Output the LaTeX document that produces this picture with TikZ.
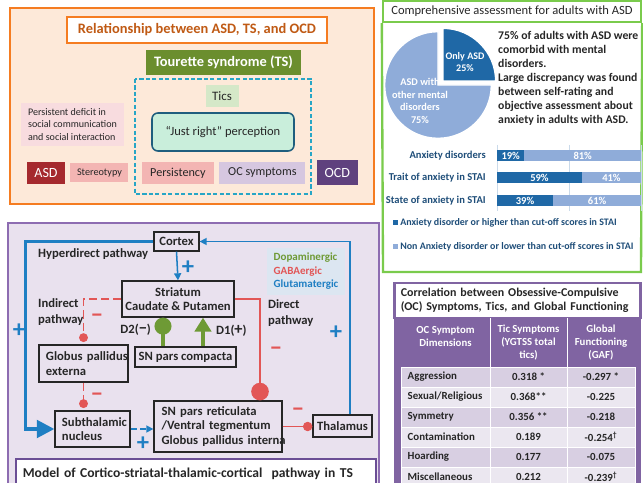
\documentclass[tikz,border=0pt]{standalone}
\usepackage{fontspec}
\setmainfont{Carlito}
\usetikzlibrary{positioning, arrows.meta}

\definecolor{orangeline}{HTML}{F57C21}
\definecolor{peach}{HTML}{FDE9D9}
\definecolor{titlebrown}{HTML}{C05A14}
\definecolor{tsgreen}{HTML}{6B8E2E}
\definecolor{dashcyan}{HTML}{27A6C6}
\definecolor{ticsgreen}{HTML}{D5E8C8}
\definecolor{mint}{HTML}{C9EEDB}
\definecolor{mintedge}{HTML}{1F5E7E}
\definecolor{pinklight}{HTML}{F8DCDF}
\definecolor{asdred}{HTML}{A5292E}
\definecolor{salmon}{HTML}{F3B5B3}
\definecolor{lavender}{HTML}{D6C7E0}
\definecolor{ocdpurple}{HTML}{5F417E}
\definecolor{textgray}{HTML}{262626}
\definecolor{greenline}{HTML}{7ACB4C}
\definecolor{barblue}{HTML}{1F68A6}
\definecolor{barlight}{HTML}{8FACD9}
\definecolor{navy}{HTML}{1F4E79}
\definecolor{gridblue}{HTML}{CADAEA}
\definecolor{panelpurple}{HTML}{8D6CB1}
\definecolor{panelfill}{HTML}{E9E1EE}
\definecolor{captionedge}{HTML}{6B4E95}
\definecolor{legendfill}{HTML}{DCE6F1}
\definecolor{glublue}{HTML}{1F7FC3}
\definecolor{gabared}{HTML}{E25656}
\definecolor{dopagreen}{HTML}{6E9A35}
\definecolor{tabpurple}{HTML}{8064A2}
\definecolor{rowdark}{HTML}{D8CFE2}
\definecolor{rowlight}{HTML}{EBE7F0}

\newcommand{\pathwayfont}{\fontsize{10.8}{12.2}\selectfont\bfseries}
\newcommand{\cellfont}{\fontsize{9.3}{11}\selectfont\bfseries}

\begin{document}
\begin{tikzpicture}[x=0.03cm, y=-0.03cm,
        flatbox/.style={rectangle, inner sep=1pt, text=textgray, align=center},
        region/.style={rectangle, draw=textgray, line width=1.1pt, inner sep=1pt, text=textgray, font=\pathwayfont, align=center},
        leftregion/.style={region, align=left, inner xsep=0.21cm},
        bar/.style={rectangle, inner sep=0pt, outer sep=0pt, minimum height=0.33cm, text=white, font=\fontsize{9}{10}\selectfont\bfseries},
        catlabel/.style={text=navy, inner sep=0pt, font=\fontsize{9}{10}\selectfont\bfseries},
        keytext/.style={text=navy, inner sep=0pt, font=\fontsize{8.5}{10}\selectfont\bfseries},
        headcell/.style={rectangle, inner sep=1pt, minimum height=1.47cm, align=center, text=white, font=\fontsize{9.2}{10.8}\selectfont\bfseries},
        cell/.style={rectangle, draw=white, line width=0.8pt, minimum height=0.6cm, inner sep=1pt, font=\cellfont, text=textgray},
        cellleft/.style={cell, text width=2.27cm, align=left, inner xsep=0.2cm},
        hyper/.style={draw=glublue, line width=3pt, -{Triangle[length=15pt, width=15pt]}},
        glu/.style={draw=glublue, line width=1.3pt, -{Triangle[length=6pt, width=6pt]}},
        direct/.style={draw=gabared, line width=2.5pt, -{Circle[length=15pt]}},
        indirect/.style={draw=gabared, line width=1.6pt, dash pattern=on 7pt off 3.5pt, -{Circle[length=7.5pt]}, shorten >=2pt},
        inhib/.style={draw=gabared, line width=1.2pt, -{Circle[length=8pt]}},
        dopa/.style={draw=dopagreen, line width=4pt},
        plus/.style={text=glublue, inner sep=0pt, font=\fontsize{21}{21}\selectfont\bfseries},
        minus/.style={text=gabared, inner sep=0pt, font=\fontsize{20}{20}\selectfont\bfseries}
    ]
    \clip (0,0) rectangle (643,483);

    % Relationship panel (top left)
    \draw[orangeline, fill=peach, line width=2.2pt] (10,8) rectangle (374,204);
    \node[draw=orangeline, fill=white, line width=2pt, minimum width=7.8cm, minimum height=0.78cm, font=\fontsize{12.3}{14}\selectfont\bfseries, text=titlebrown] (reltitle) at (197,30) {Relationship between ASD, TS, and OCD};
    \node[fill=tsgreen, minimum width=4.65cm, minimum height=0.75cm, font=\fontsize{12.3}{14}\selectfont\bfseries, text=white] (ts) at (223.5,62.5) {Tourette syndrome (TS)};
    \draw[dashcyan, line width=1.3pt, dash pattern=on 3.5pt off 2pt] (135,79) rectangle (311,194);
    \node[flatbox, fill=ticsgreen, minimum width=0.99cm, minimum height=0.66cm, font=\fontsize{11}{12}\selectfont] (tics) at (222,96) {Tics};
    \node[flatbox, draw=mintedge, line width=1.3pt, rounded corners=5pt, fill=mint, minimum width=4.26cm, minimum height=1.14cm, font=\fontsize{10.7}{13}\selectfont] (justright) at (223,132) {“Just right” perception};
    \node[flatbox, fill=pinklight, minimum width=3.09cm, minimum height=1.29cm, align=left, font=\fontsize{8.6}{10.3}\selectfont] (deficit) at (72.5,124.5) {Persistent deficit in\\social communication\\and social interaction};

    % Symptom row
    \node[flatbox, fill=asdred, text=white, minimum width=1.14cm, minimum height=0.66cm, font=\fontsize{12}{13}\selectfont] (asd) at (46,173) {ASD};
    \node[flatbox, fill=salmon, minimum width=1.74cm, minimum height=0.57cm, font=\fontsize{8.7}{10}\selectfont, right=0.15cm of asd] (stereo) {Stereotypy};
    \node[flatbox, fill=salmon, minimum width=2.16cm, minimum height=0.66cm, font=\fontsize{10.4}{12}\selectfont, right=0.39cm of stereo] (persist) {Persistency};
    \node[flatbox, fill=lavender, minimum width=2.58cm, minimum height=0.66cm, font=\fontsize{10.4}{12}\selectfont, right=0.15cm of persist] (ocsym) {OC symptoms};
    \node[flatbox, fill=ocdpurple, text=white, minimum width=1.23cm, minimum height=0.75cm, font=\fontsize{12}{13}\selectfont, right=0.33cm of ocsym] (ocd) {OCD};

    % Assessment panel (top right)
    \node[draw=greenline, line width=2pt, minimum width=7.74cm, minimum height=0.63cm, font=\fontsize{10.7}{12}\selectfont, text=textgray] (comptitle) at (512,11.5) {Comprehensive assessment for adults with ASD};
    \draw[greenline, line width=2pt] (comptitle.south west) -- (383,272) -- (641,272) -- (comptitle.south east);

    % Pie chart
    \begin{scope}[shift={(438,85)}, x=1cm, y=1cm]
        \fill[barlight, draw=white, line width=1.2pt] (0,0) -- (90:1.6) arc[start angle=90, end angle=360, radius=1.6] -- cycle;
    \end{scope}
    \begin{scope}[shift={(443,81)}, x=1cm, y=1cm]
        \fill[barblue, draw=white, line width=1.2pt] (0,0) -- (0:1.58) arc[start angle=0, end angle=90, radius=1.58] -- cycle;
    \end{scope}
    \node[text=white, align=center, font=\fontsize{8.6}{10.6}\selectfont\bfseries] (onlyasd) at (465,62) {Only ASD\\25\%};
    \node[text=white, align=center, font=\fontsize{8.8}{10.6}\selectfont\bfseries] (withother) at (420,101) {ASD with\\other mental\\disorders\\75\%};
    \node[anchor=north west, inner sep=0pt, align=left, text=textgray, font=\fontsize{10}{11.9}\selectfont\bfseries] (comorbid) at (498,31) {75\% of adults with ASD were\\comorbid with mental\\disorders.\\Large discrepancy was found\\between self-rating and\\objective assessment about\\anxiety in adults with ASD.};

    % Bar chart
    \draw[gridblue, line width=0.8pt] (497,145) -- (497,211) (569,145) -- (569,211) (641,145) -- (641,211);
    \node[bar, fill=barblue, minimum width=0.821cm, anchor=west] (anxdark) at (497,156) {19\%};
    \node[bar, fill=barlight, minimum width=3.499cm, right=0pt of anxdark] (anxlight) {81\%};
    \node[catlabel, left=0.33cm of anxdark] (anxlabel) {Anxiety disorders};
    \node[bar, fill=barblue, minimum width=2.549cm, anchor=west] (traitdark) at (497,178) {59\%};
    \node[bar, fill=barlight, minimum width=1.771cm, right=0pt of traitdark] (traitlight) {41\%};
    \node[catlabel, left=0.33cm of traitdark] (traitlabel) {Trait of anxiety in STAI};
    \node[bar, fill=barblue, minimum width=1.685cm, anchor=west] (statedark) at (497,201) {39\%};
    \node[bar, fill=barlight, minimum width=2.635cm, right=0pt of statedark] (statelight) {61\%};
    \node[catlabel, left=0.33cm of statedark] (statelabel) {State of anxiety in STAI};

    % Bar legend
    \node[fill=barblue, minimum size=0.15cm, inner sep=0pt] (keydark) at (395,223) {};
    \node[keytext, right=2pt of keydark] (keydarktext) {Anxiety disorder or higher than cut-off scores in STAI};
    \node[fill=barlight, minimum size=0.15cm, inner sep=0pt] (keylight) at (395,247) {};
    \node[keytext, right=2pt of keylight] (keylighttext) {Non Anxiety disorder or lower than cut-off scores in STAI};

    % Correlation table (bottom right)
    \fill[tabpurple] (394,283) rectangle (641,490);
    \node[draw=tabpurple, line width=2pt, fill=white, minimum width=7.38cm, minimum height=1.05cm, text width=7.0cm, align=left, inner xsep=0.19cm, font=\fontsize{10.2}{12}\selectfont\bfseries, text=textgray] (corrtitle) at (517.5,300.5) {Correlation between Obsessive-Compulsive\\(OC) Symptoms, Tics, and Global Functioning};
    \node[headcell, minimum width=2.67cm] (hdim) at (445.5,342.5) {OC Symptom\\Dimensions\\~};
    \node[headcell, minimum width=2.31cm] (htic) at (528.5,342.5) {Tic Symptoms\\(YGTSS total\\tics)};
    \node[headcell, minimum width=2.04cm] (hgaf) at (601,342.5) {Global\\Functioning\\(GAF)};
    \draw[white, line width=0.8pt] (hdim.north east) -- (hdim.south east) (htic.north east) -- (htic.south east);

    \node[cellleft, fill=rowdark] (agg) at (445.5,377) {Aggression};
    \node[cell, fill=rowdark, minimum width=2.31cm] (aggtic) at (528.5,377) {0.318 *};
    \node[cell, fill=rowdark, minimum width=2.04cm] (agggaf) at (601,377) {-0.297 *};
    \node[cellleft, fill=rowlight] (sex) at (445.5,397) {Sexual/Religious};
    \node[cell, fill=rowlight, minimum width=2.31cm] (sextic) at (528.5,397) {0.368**};
    \node[cell, fill=rowlight, minimum width=2.04cm] (sexgaf) at (601,397) {-0.225};
    \node[cellleft, fill=rowdark] (sym) at (445.5,417) {Symmetry};
    \node[cell, fill=rowdark, minimum width=2.31cm] (symtic) at (528.5,417) {0.356 **};
    \node[cell, fill=rowdark, minimum width=2.04cm] (symgaf) at (601,417) {-0.218};
    \node[cellleft, fill=rowlight] (cont) at (445.5,437) {Contamination};
    \node[cell, fill=rowlight, minimum width=2.31cm] (conttic) at (528.5,437) {0.189};
    \node[cell, fill=rowlight, minimum width=2.04cm] (contgaf) at (601,437) {-0.254\textsuperscript{†}};
    \node[cellleft, fill=rowdark] (hoard) at (445.5,457) {Hoarding};
    \node[cell, fill=rowdark, minimum width=2.31cm] (hoardtic) at (528.5,457) {0.177};
    \node[cell, fill=rowdark, minimum width=2.04cm] (hoardgaf) at (601,457) {-0.075};
    \node[cellleft, fill=rowlight] (misc) at (445.5,477) {Miscellaneous};
    \node[cell, fill=rowlight, minimum width=2.31cm] (misctic) at (528.5,477) {0.212};
    \node[cell, fill=rowlight, minimum width=2.04cm] (miscgaf) at (601,477) {-0.239\textsuperscript{†}};

    % Pathway panel (bottom left)
    \draw[panelpurple, fill=panelfill, line width=2pt] (8,223) rectangle (379,490);
    \node[region, minimum width=1.35cm, minimum height=0.57cm] (cortex) at (176.5,241.5) {Cortex};
    \node[region, minimum width=3.36cm, minimum height=1.08cm] (striatum) at (178,299) {Striatum\\Caudate \& Putamen};
    \node[leftregion, text width=2.25cm, minimum height=1.11cm] (gpe) at (83.5,363.5) {\mbox{Globus pallidus}\\externa};
    \node[region, minimum width=3.03cm, minimum height=0.6cm] (snc) at (185.5,357) {SN pars compacta};
    \node[leftregion, text width=1.83cm, minimum height=1.08cm] (stn) at (92.5,429) {\mbox{Subthalamic}\\nucleus};
    \node[leftregion, text width=3.38cm, inner xsep=0.23cm, minimum height=1.53cm] (snr) at (218,426.5) {\mbox{SN pars reticulata}\\\mbox{/Ventral tegmentum}\\\mbox{Globus pallidus interna}};
    \node[region, minimum width=1.77cm, minimum height=0.66cm] (thalamus) at (342.5,426) {Thalamus};
    \node[fill=legendfill, minimum width=2.34cm, minimum height=1.41cm, align=left, font=\fontsize{9.4}{11.5}\selectfont\bfseries] (transmitters) at (306,271.5) {\textcolor{dopagreen}{Dopaminergic}\\\textcolor{gabared}{GABAergic}\\\textcolor{glublue}{Glutamatergic}};

    % Pathway labels
    \node[font=\pathwayfont, text=textgray, anchor=west] (hyperlabel) at (34,254) {Hyperdirect pathway};
    \node[font=\fontsize{10.8}{13.5}\selectfont\bfseries, text=textgray, align=left, anchor=west] (indirectlabel) at (34,312) {Indirect\\pathway};
    \node[font=\fontsize{10.8}{13.5}\selectfont\bfseries, text=textgray, align=left, anchor=west] (directlabel) at (264,313) {Direct\\pathway};
    \node[font=\pathwayfont, text=textgray, anchor=east] (d2label) at (155,330) {D2({\fontsize{14}{14}\selectfont −})};
    \node[font=\pathwayfont, text=textgray, anchor=west] (d1label) at (212,331) {D1({\fontsize{14}{14}\selectfont +})};

    % Connections
    \coordinate (thalout) at ([xshift=0.225cm]thalamus.north);
    \coordinate (directin) at ([xshift=1.26cm]snr.north);
    \coordinate (d2foot) at ([xshift=-0.675cm]snc.north);
    \coordinate (d1foot) at ([xshift=0.525cm]snc.north);
    \draw[hyper] (cortex.west) -- ++(-128,0) |- (stn.west);
    \draw[glu] (cortex.south) -- (striatum.north);
    \draw[glu] (thalout) |- (cortex.east);
    \draw[direct] (striatum.east) -| (directin);
    \draw[indirect] (striatum.west) -| (gpe.north);
    \draw[indirect] (gpe.south) -- (gpe.south |- stn.north);
    \draw[glu, dash pattern=on 5pt off 3pt] (stn.east) -- (stn.east -| snr.west);
    \draw[inhib] (snr.east) -- (snr.east -| thalamus.west);
    \draw[dopa, -{Circle[length=14.5pt]}] (d2foot) -- (d2foot |- striatum.south);
    \draw[dopa, -{Triangle[length=12pt, width=14pt]}] (d1foot) -- (d1foot |- striatum.south);

    % Signs
    \node[plus] (plushyper) at (19,331) {+};
    \node[plus] (pluscortex) at (188,268) {+};
    \node[plus] (plusthal) at (336,333) {+};
    \node[plus] (plusstn) at (143,444) {+};
    \node[minus] (minusindirect) at (97,318) {−};
    \node[minus] (minusgpe) at (97,397) {−};
    \node[minus] (minusdirect) at (276,351) {−};
    \node[minus] (minussnr) at (298,412) {−};

    % Caption
    \node[draw=captionedge, line width=2pt, fill=white, minimum width=10.8cm, minimum height=0.9cm, anchor=north west, text width=10.4cm, align=left, inner xsep=0.2cm, font=\fontsize{11.6}{13}\selectfont\bfseries, text=textgray] (caption) at (15,458) {Model of Cortico-striatal-thalamic-cortical\ \ pathway in TS};

\end{tikzpicture}
\end{document}
